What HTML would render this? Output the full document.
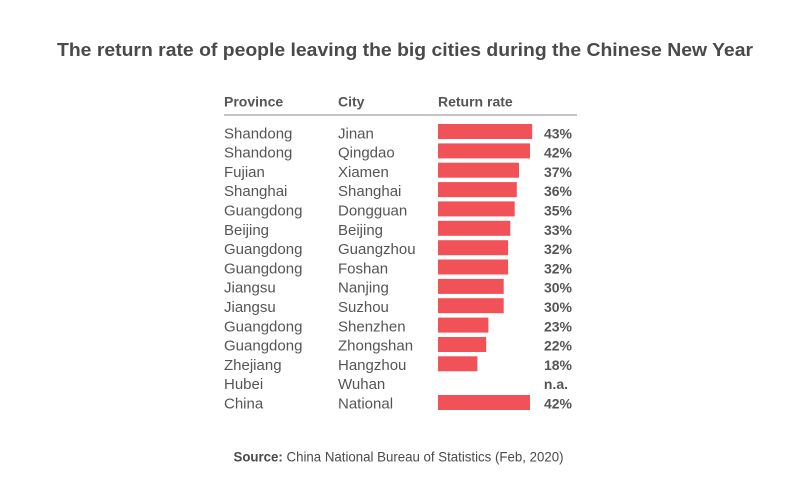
<!DOCTYPE html>
<html><head><meta charset="utf-8"><style>
html,body{margin:0;padding:0;background:#fff;}
svg{display:block;}
text{font-family:"Liberation Sans",Arial,sans-serif;}
</style></head><body>
<svg width="800" height="500" viewBox="0 0 800 500" xmlns="http://www.w3.org/2000/svg">
<rect width="800" height="500" fill="#fff"/>
<text x="57" y="56" font-size="18.5" font-weight="bold" fill="#4a4a4a" textLength="696" lengthAdjust="spacingAndGlyphs">The return rate of people leaving the big cities during the Chinese New Year</text>
<g font-size="14" font-weight="bold" fill="#555">
<text x="224" y="106.5">Province</text>
<text x="338" y="106.5">City</text>
<text x="438" y="106.5">Return rate</text>
</g>
<rect x="224" y="114.3" width="353" height="1.4" fill="#aaa"/>
<g font-size="15" fill="#555">
<text x="224" y="138.3">Shandong</text><text x="338" y="138.3">Jinan</text>
<text x="224" y="157.6">Shandong</text><text x="338" y="157.6">Qingdao</text>
<text x="224" y="176.9">Fujian</text><text x="338" y="176.9">Xiamen</text>
<text x="224" y="196.2">Shanghai</text><text x="338" y="196.2">Shanghai</text>
<text x="224" y="215.5">Guangdong</text><text x="338" y="215.5">Dongguan</text>
<text x="224" y="234.8">Beijing</text><text x="338" y="234.8">Beijing</text>
<text x="224" y="254.1">Guangdong</text><text x="338" y="254.1">Guangzhou</text>
<text x="224" y="273.4">Guangdong</text><text x="338" y="273.4">Foshan</text>
<text x="224" y="292.7">Jiangsu</text><text x="338" y="292.7">Nanjing</text>
<text x="224" y="312.0">Jiangsu</text><text x="338" y="312.0">Suzhou</text>
<text x="224" y="331.3">Guangdong</text><text x="338" y="331.3">Shenzhen</text>
<text x="224" y="350.6">Guangdong</text><text x="338" y="350.6">Zhongshan</text>
<text x="224" y="369.9">Zhejiang</text><text x="338" y="369.9">Hangzhou</text>
<text x="224" y="389.2">Hubei</text><text x="338" y="389.2">Wuhan</text>
<text x="224" y="408.5">China</text><text x="338" y="408.5">National</text>
</g>
<g fill="#f05257">
<rect x="438" y="124.0" width="94.2" height="15"/>
<rect x="438" y="143.4" width="92.0" height="15"/>
<rect x="438" y="162.7" width="81.0" height="15"/>
<rect x="438" y="182.1" width="78.8" height="15"/>
<rect x="438" y="201.4" width="76.7" height="15"/>
<rect x="438" y="220.8" width="72.3" height="15"/>
<rect x="438" y="240.2" width="70.1" height="15"/>
<rect x="438" y="259.5" width="70.1" height="15"/>
<rect x="438" y="278.9" width="65.7" height="15"/>
<rect x="438" y="298.2" width="65.7" height="15"/>
<rect x="438" y="317.6" width="50.4" height="15"/>
<rect x="438" y="337.0" width="48.2" height="15"/>
<rect x="438" y="356.3" width="39.4" height="15"/>
<rect x="438" y="395.0" width="92.0" height="15"/>
</g>
<g font-size="14" font-weight="bold" fill="#555" text-anchor="end">
<text x="572" y="138.3">43%</text>
<text x="572" y="157.6">42%</text>
<text x="572" y="176.9">37%</text>
<text x="572" y="196.2">36%</text>
<text x="572" y="215.5">35%</text>
<text x="572" y="234.8">33%</text>
<text x="572" y="254.1">32%</text>
<text x="572" y="273.4">32%</text>
<text x="572" y="292.7">30%</text>
<text x="572" y="312.0">30%</text>
<text x="572" y="331.3">23%</text>
<text x="572" y="350.6">22%</text>
<text x="572" y="369.9">18%</text>
<text x="568" y="389.2">n.a.</text>
<text x="572" y="408.5">42%</text>
</g>
<text x="233.5" y="461.7" font-size="14" fill="#4a4a4a" textLength="330" lengthAdjust="spacingAndGlyphs"><tspan font-weight="bold">Source:</tspan> China National Bureau of Statistics (Feb, 2020)</text>
</svg>
</body></html>
